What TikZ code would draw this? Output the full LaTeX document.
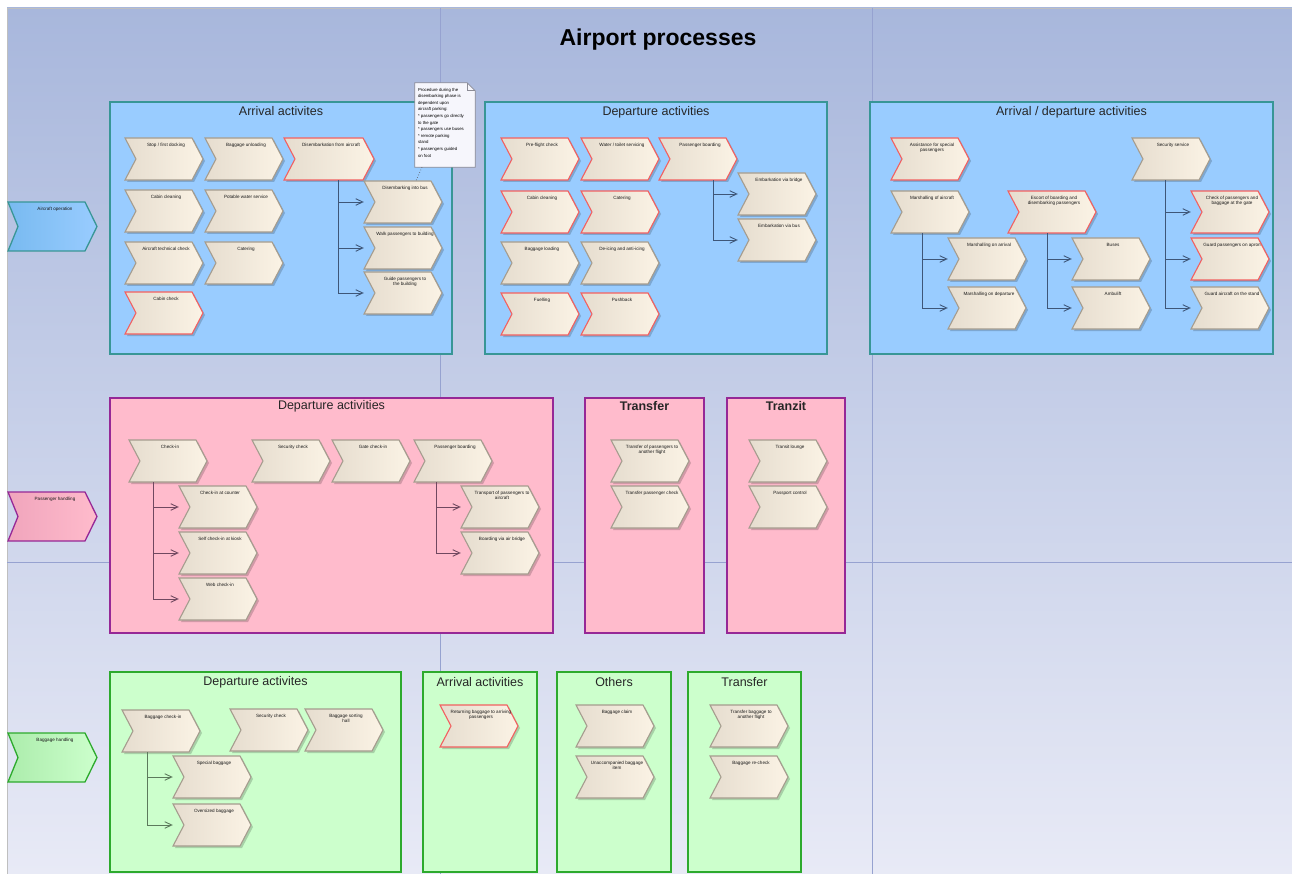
\documentclass[tikz,border=0pt]{standalone}
\usepackage{fontspec}
\setmainfont{Liberation Sans}
\usetikzlibrary{arrows.meta,fit}

\definecolor{bgtop}{RGB}{168,183,220}
\definecolor{bgbot}{RGB}{232,234,246}
\definecolor{pageln}{RGB}{150,162,208}
\definecolor{bluefill}{RGB}{153,204,255}
\definecolor{blueedge}{RGB}{56,150,150}
\definecolor{pinkfill}{RGB}{255,187,204}
\definecolor{pinkedge}{RGB}{150,40,150}
\definecolor{greenfill}{RGB}{204,255,204}
\definecolor{greenedge}{RGB}{45,170,45}
\definecolor{laneblueL}{RGB}{120,186,240}
\definecolor{lanepinkL}{RGB}{240,165,188}
\definecolor{lanegreenL}{RGB}{172,236,172}
\definecolor{chevL}{RGB}{230,221,207}
\definecolor{chevR}{RGB}{251,243,229}
\definecolor{chevedge}{RGB}{165,156,142}
\definecolor{hotedge}{RGB}{242,96,96}
\definecolor{connblue}{RGB}{62,86,120}
\definecolor{connpink}{RGB}{112,72,96}
\definecolor{conngreen}{RGB}{92,122,92}
\definecolor{notefill}{RGB}{246,246,252}
\definecolor{noteedge}{RGB}{140,140,150}

\tikzset{
  groupbox/.style 2 args={draw=#2, fill=#1, line width=1.6pt, inner sep=0pt},
  grouptitle/.style={font=\fontsize{12.5}{14}\selectfont, text=black!85, inner sep=0pt},
  chevbody/.style={left color=chevL, right color=chevR, line width=1.1pt, line join=miter},
  chevshadow/.style={fill=black, fill opacity=0.18},
  chevhold/.style={draw=none, inner sep=0pt, minimum height=42pt, rectangle},
  chevtext/.style={font=\fontsize{4.6}{5.4}\selectfont, align=center, inner sep=0pt, anchor=north, text=black!90},
  lanehold/.style={draw=none, inner sep=0pt, minimum height=49pt, minimum width=89pt, rectangle},
  conn/.style={draw=#1, line width=0.9pt, -{Straight Barb[length=7pt,width=6.5pt]}},
}

% activity chevron: [edge colour] name, left x, top y, width, label
\newcommand\chev[6][chevedge]{%
  \fill[chevshadow] (#3+2,#4+2) -- ++(#5-11,0) -- ++(11,21) -- ++(-11,21)
        -- ++(11-#5,0) -- ++(11,-21) -- cycle;
  \path[chevbody,draw=#1] (#3,#4) -- ++(#5-11,0) -- ++(11,21) -- ++(-11,21)
        -- ++(11-#5,0) -- ++(11,-21) -- cycle;
  \node[chevhold,minimum width=#5pt] (#2) at (#3+#5/2,#4+21) {};
  \node[chevtext] (#2-t) at (#3+#5/2+2,#4+5) {#6};
}

% swim-lane chevron: name, top y, left colour, right colour, edge, label
\newcommand\lanechev[6]{%
  \path[left color=#3, right color=#4, draw=#5, line width=1.3pt]
        (8,#2) -- ++(77,0) -- ++(12,24.5) -- ++(-12,24.5) -- ++(-77,0) -- ++(10,-24.5) -- cycle;
  \node[lanehold] (#1) at (52.5,#2+24.5) {};
  \node[chevtext] (#1-t) at (55,#2+5) {#6};
}

\begin{document}
\begin{tikzpicture}[x=1pt,y=-1pt]
\useasboundingbox (0,0) rectangle (1292,874);

% canvas
\fill[white] (0,0) rectangle (1292,874);
\shade[top color=bgtop, bottom color=bgbot] (7,8) rectangle (1292,874);
\draw[black!25, line width=0.6pt] (7,874) -- (7,8) -- (1292,8);

% page boundaries
\draw[pageln, line width=0.6pt] (440,8) -- (440,874);
\draw[pageln, line width=0.6pt] (872,8) -- (872,874);
\draw[pageln, line width=0.6pt] (7,562) -- (1292,562);

% title
\node[font=\fontsize{23}{27}\selectfont\bfseries, inner sep=0pt] (title) at (658,40) {Airport processes};

% swim lanes
\lanechev{laneAC}{202}{laneblueL}{bluefill}{blueedge}{Aircraft operation}
\lanechev{lanePX}{492}{lanepinkL}{pinkfill}{pinkedge}{Passenger handling}
\lanechev{laneBG}{733}{lanegreenL}{greenfill}{greenedge}{Baggage handling}

% groups
\node[groupbox={bluefill}{blueedge}, fit={(110,102) (452,354)}] (g1) {};
\node[grouptitle] (g1-t) at ([yshift=-10pt]g1.north) {Arrival activites};
\node[groupbox={bluefill}{blueedge}, fit={(485,102) (827,354)}] (g2) {};
\node[grouptitle] (g2-t) at ([yshift=-11pt]g2.north) {Departure activities};
\node[groupbox={bluefill}{blueedge}, fit={(870,102) (1273,354)}] (g3) {};
\node[grouptitle] (g3-t) at ([yshift=-11pt]g3.north) {Arrival / departure activities};

\node[groupbox={pinkfill}{pinkedge}, fit={(110,398) (553,633)}] (g4) {};
\node[grouptitle] (g4-t) at ([yshift=-9pt]g4.north) {Departure activities};
\node[groupbox={pinkfill}{pinkedge}, fit={(585,398) (704,633)}] (g5) {};
\node[grouptitle] (g5-t) at ([yshift=-9pt]g5.north) {\bfseries Transfer};
\node[groupbox={pinkfill}{pinkedge}, fit={(727,398) (845,633)}] (g6) {};
\node[grouptitle] (g6-t) at ([yshift=-9pt]g6.north) {\bfseries Tranzit};

\node[groupbox={greenfill}{greenedge}, fit={(110,672) (401,872)}] (g7) {};
\node[grouptitle] (g7-t) at ([yshift=-11pt]g7.north) {Departure activites};
\node[groupbox={greenfill}{greenedge}, fit={(423,672) (537,872)}] (g8) {};
\node[grouptitle] (g8-t) at ([yshift=-11pt]g8.north) {Arrival activities};
\node[groupbox={greenfill}{greenedge}, fit={(557,672) (671,872)}] (g9) {};
\node[grouptitle] (g9-t) at ([yshift=-11pt]g9.north) {Others};
\node[groupbox={greenfill}{greenedge}, fit={(688,672) (801,872)}] (g10) {};
\node[grouptitle] (g10-t) at ([yshift=-11pt]g10.north) {Transfer};

% --- aircraft operation: arrival
\chev{A1}{125}{138}{78}{Stop / first docking}
\chev{A2}{205}{138}{78}{Baggage unloading}
\chev[hotedge]{A3}{284}{138}{90}{Disembarkation from aircraft}
\chev{A4}{125}{190}{78}{Cabin cleaning}
\chev{A5}{205}{190}{78}{Potable water service}
\chev{A6}{125}{242}{78}{Aircraft technical check}
\chev{A7}{205}{242}{78}{Catering}
\chev[hotedge]{A8}{125}{292}{78}{Cabin check}
\chev{A9}{364}{181}{78}{Disembarking into bus}
\chev{A10}{364}{227}{78}{Walk passengers to building}
\chev{A11}{364}{272}{78}{Guide passengers to\\the building}

% remark attached to the disembarkation steps
\node[draw=none, minimum width=60pt, minimum height=84pt, inner sep=0pt] (note) at (445,125) {};
\path[fill=notefill, draw=noteedge, line width=0.7pt]
  (note.north west) -- ([xshift=-8pt]note.north east) -- ([yshift=-8pt]note.north east)
  -- (note.south east) -- (note.south west) -- cycle;
\draw[noteedge, line width=0.6pt] ([xshift=-8pt]note.north east) -- ([xshift=-8pt,yshift=-8pt]note.north east) -- ([yshift=-8pt]note.north east);
\node[font=\fontsize{4.3}{6.6}\selectfont, align=left, anchor=north west, inner sep=0pt] (note-t)
  at ([xshift=3pt,yshift=-5pt]note.north west)
  {Procedure during the\\ disembarking phase is\\ dependent upon\\ aircraft parking:\\
   * passengers go directly\\ to the gate\\ * passengers use buses\\ * remote parking\\ stand\\ * passengers guided\\ on foot};
\draw[noteedge!70!black, line width=0.7pt, dotted] ([xshift=-23pt]note.south) -- ([xshift=13pt]A9.north);

\draw[conn=connblue] ([xshift=9pt]A3.south) |- (A9.west);
\draw[conn=connblue] ([xshift=9pt]A3.south) |- (A10.west);
\draw[conn=connblue] ([xshift=9pt]A3.south) |- (A11.west);

% --- aircraft operation: departure
\chev[hotedge]{D1}{501}{138}{78}{Pre-flight check}
\chev[hotedge]{D2}{581}{138}{78}{Water / toilet servicing}
\chev[hotedge]{D3}{659}{138}{78}{Passenger boarding}
\chev[hotedge]{D4}{501}{191}{78}{Cabin cleaning}
\chev[hotedge]{D5}{581}{191}{78}{Catering}
\chev{D6}{501}{242}{78}{Baggage loading}
\chev{D7}{581}{242}{78}{De-icing and anti-icing}
\chev[hotedge]{D8}{501}{293}{78}{Fuelling}
\chev[hotedge]{D9}{581}{293}{78}{Pushback}
\chev{D10}{738}{173}{78}{Embarkation via bridge}
\chev{D11}{738}{219}{78}{Embarkation via bus}

\draw[conn=connblue] ([xshift=15pt]D3.south) |- (D10.west);
\draw[conn=connblue] ([xshift=15pt]D3.south) |- (D11.west);

% --- aircraft operation: arrival / departure
\chev[hotedge]{E1}{891}{138}{78}{Assistance for special\\passengers}
\chev{E2}{891}{191}{78}{Marshalling of aircraft}
\chev[hotedge]{E3}{1008}{191}{88}{Escort of boarding and\\disembarking passengers}
\chev{E4}{1132}{138}{78}{Security service}
\chev{E5}{948}{238}{78}{Marshalling on arrival}
\chev{E6}{948}{287}{78}{Marshalling on departure}
\chev{E7}{1072}{238}{78}{Buses}
\chev{E8}{1072}{287}{78}{Ambulift}
\chev[hotedge]{E9}{1191}{191}{78}{Check of passengers and\\baggage at the gate}
\chev[hotedge]{E10}{1191}{238}{78}{Guard passengers on apron}
\chev{E11}{1191}{287}{78}{Guard aircraft on the stand}

\draw[conn=connblue] ([xshift=-7.5pt]E2.south) |- (E5.west);
\draw[conn=connblue] ([xshift=-7.5pt]E2.south) |- (E6.west);
\draw[conn=connblue] ([xshift=-5pt]E3.south) |- (E7.west);
\draw[conn=connblue] ([xshift=-5pt]E3.south) |- (E8.west);
\draw[conn=connblue] ([xshift=-5.5pt]E4.south) |- (E9.west);
\draw[conn=connblue] ([xshift=-5.5pt]E4.south) |- (E10.west);
\draw[conn=connblue] ([xshift=-5.5pt]E4.south) |- (E11.west);

% --- passenger handling
\chev{P1}{129}{440}{78}{Check-in}
\chev{P2}{252}{440}{78}{Security check}
\chev{P3}{332}{440}{78}{Gate check-in}
\chev{P4}{414}{440}{78}{Passenger boarding}
\chev{P5}{179}{486}{78}{Check-in at counter}
\chev{P6}{179}{532}{78}{Self check-in at kiosk}
\chev{P7}{179}{578}{78}{Web check-in}
\chev{P8}{461}{486}{78}{Transport of passengers to\\aircraft}
\chev{P9}{461}{532}{78}{Boarding via air bridge}

\draw[conn=connpink] ([xshift=-15pt]P1.south) |- (P5.west);
\draw[conn=connpink] ([xshift=-15pt]P1.south) |- (P6.west);
\draw[conn=connpink] ([xshift=-15pt]P1.south) |- (P7.west);
\draw[conn=connpink] ([xshift=-17pt]P4.south) |- (P8.west);
\draw[conn=connpink] ([xshift=-17pt]P4.south) |- (P9.west);

\chev{T1}{611}{440}{78}{Transfer of passengers to\\another flight}
\chev{T2}{611}{486}{78}{Transfer passenger check}
\chev{Z1}{749}{440}{78}{Transit lounge}
\chev{Z2}{749}{486}{78}{Passport control}

% --- baggage handling
\chev{G1}{122}{710}{78}{Baggage check-in}
\chev{G2}{230}{709}{78}{Security check}
\chev{G3}{305}{709}{78}{Baggage sorting\\hall}
\chev{G4}{173}{756}{78}{Special baggage}
\chev{G5}{173}{804}{78}{Oversized baggage}

\draw[conn=conngreen] ([xshift=-13.5pt]G1.south) |- (G4.west);
\draw[conn=conngreen] ([xshift=-13.5pt]G1.south) |- (G5.west);

\chev[hotedge]{R1}{440}{705}{78}{Returning baggage to arriving\\passengers}
\chev{O1}{576}{705}{78}{Baggage claim}
\chev{O2}{576}{756}{78}{Unaccompanied baggage\\item}
\chev{T3}{710}{705}{78}{Transfer baggage to\\another flight}
\chev{T4}{710}{756}{78}{Baggage re-check}

\end{tikzpicture}
\end{document}
